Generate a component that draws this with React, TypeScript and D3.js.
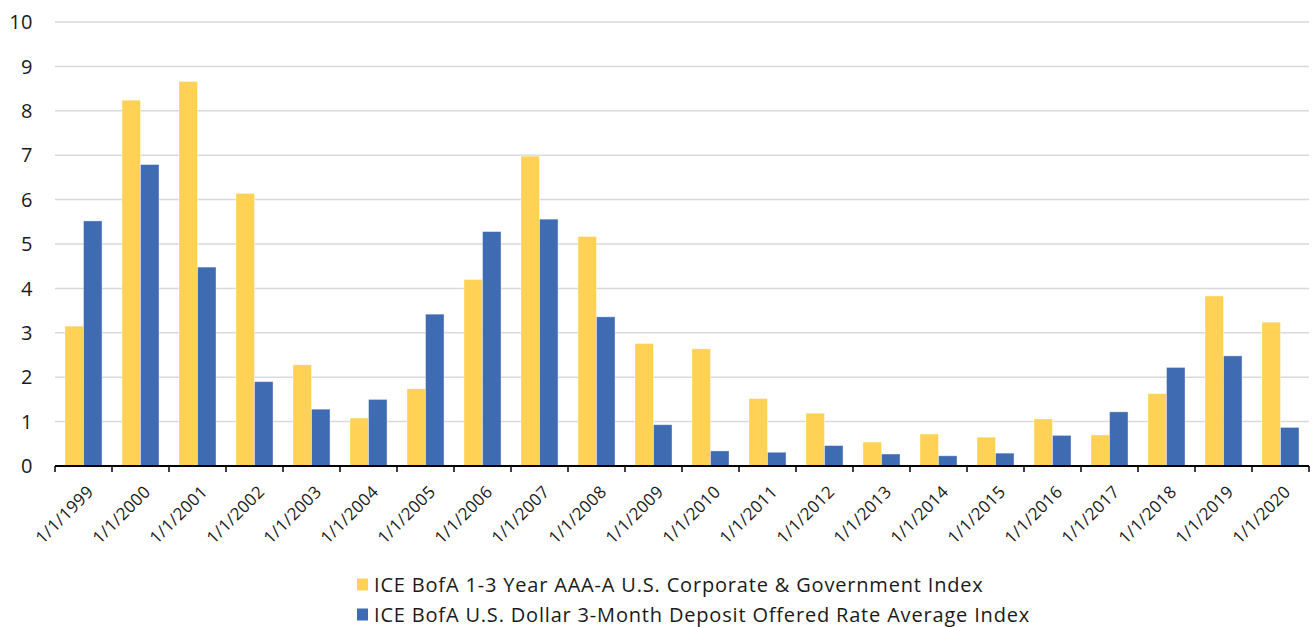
import React from "react";
import * as d3 from "d3";

const categories = [
  "1/1/1999", "1/1/2000", "1/1/2001", "1/1/2002", "1/1/2003", "1/1/2004",
  "1/1/2005", "1/1/2006", "1/1/2007", "1/1/2008", "1/1/2009", "1/1/2010",
  "1/1/2011", "1/1/2012", "1/1/2013", "1/1/2014", "1/1/2015", "1/1/2016",
  "1/1/2017", "1/1/2018", "1/1/2019", "1/1/2020",
];
const corpGovt = [
  3.15, 8.24, 8.66, 6.14, 2.28, 1.08, 1.74, 4.2, 6.98, 5.17, 2.76,
  2.64, 1.52, 1.19, 0.54, 0.72, 0.65, 1.06, 0.7, 1.63, 3.83, 3.24,
];
const deposit3m = [
  5.52, 6.79, 4.48, 1.9, 1.28, 1.5, 3.42, 5.28, 5.56, 3.36, 0.93,
  0.34, 0.31, 0.46, 0.27, 0.23, 0.29, 0.69, 1.22, 2.22, 2.48, 0.87,
];
const yTicks = [0, 1, 2, 3, 4, 5, 6, 7, 8, 9, 10];
const seriesNames = [
  "ICE BofA 1-3 Year AAA-A U.S. Corporate & Government Index",
  "ICE BofA U.S. Dollar 3-Month Deposit Offered Rate Average Index",
];
const seriesColors = ["#FFD154", "#3F6BB3"];

const W = 1315;
const H = 627;
const FONT = "'Open Sans', Lato, sans-serif";

export default function App() {
  const left = 55;
  const right = 1309;
  const y0 = 466;
  const yTop = 22;
  const x = d3.scaleBand<string>().domain(categories).range([left, right]).paddingInner(0.35).paddingOuter(0.175);
  const xBand = d3.scaleBand<string>().domain(categories).range([left, right]).padding(0);
  const inner = d3.scaleBand<number>().domain([0, 1]).range([0, x.bandwidth()]).padding(0);
  const y = d3.scaleLinear().domain([0, 10]).range([y0, yTop]);
  const series = [corpGovt, deposit3m];

  return (
    <svg width={W} height={H} style={{ position: "absolute", left: 0, top: 0, background: "#fff" }}>
      {yTicks.map((t) => (
        <g key={"g" + t}>
          {t > 0 && (
            <line x1={left} x2={right} y1={y(t)} y2={y(t)} stroke="#D9D9D9" strokeWidth={1.5} />
          )}
          <text x={33} y={y(t)} dy="0.36em" textAnchor="end" fontFamily={FONT} fontSize={20} letterSpacing={0.5} fill="#1a1a1a">
            {t}
          </text>
        </g>
      ))}
      {series.map((vals, si) =>
        vals.map((v, i) => (
          <rect
            key={si + "-" + i}
            x={(x(categories[i]) as number) + (inner(si) as number)}
            y={y(v)}
            width={inner.bandwidth()}
            height={y0 - y(v)}
            fill={seriesColors[si]}
            stroke="#ffffff"
            strokeOpacity={0.5}
            strokeWidth={0.8}
          />
        ))
      )}
      <line x1={left} x2={right} y1={y0} y2={y0} stroke="#000" strokeWidth={2} />
      {categories.map((c, i) => (
        <line
          key={"t" + i}
          x1={xBand(c) as number}
          x2={xBand(c) as number}
          y1={y0}
          y2={y0 + 6}
          stroke="#000"
          strokeWidth={1.5}
        />
      ))}
      <line x1={right} x2={right} y1={y0} y2={y0 + 6} stroke="#000" strokeWidth={1.5} />
      {categories.map((c) => {
        const cx = (xBand(c) as number) + xBand.bandwidth() / 2 + 11;
        const cy = y0 + 27;
        return (
          <text
            key={"l" + c}
            x={cx}
            y={cy}
            textAnchor="end"
            transform={`rotate(-45, ${cx}, ${cy})`}
            fontFamily={FONT}
            fontSize={17}
            letterSpacing={0.3}
            fill="#1a1a1a"
          >
            {c}
          </text>
        );
      })}
      {seriesNames.map((n, i) => (
        <g key={"leg" + i} transform={`translate(357, ${584.5 + i * 30})`}>
          <rect x={0} y={-6} width={11} height={12} fill={seriesColors[i]} />
          <text x={17} y={0} dy="0.36em" fontFamily={FONT} fontSize={20} letterSpacing={0.82} fill="#1a1a1a">
            {n}
          </text>
        </g>
      ))}
    </svg>
  );
}
